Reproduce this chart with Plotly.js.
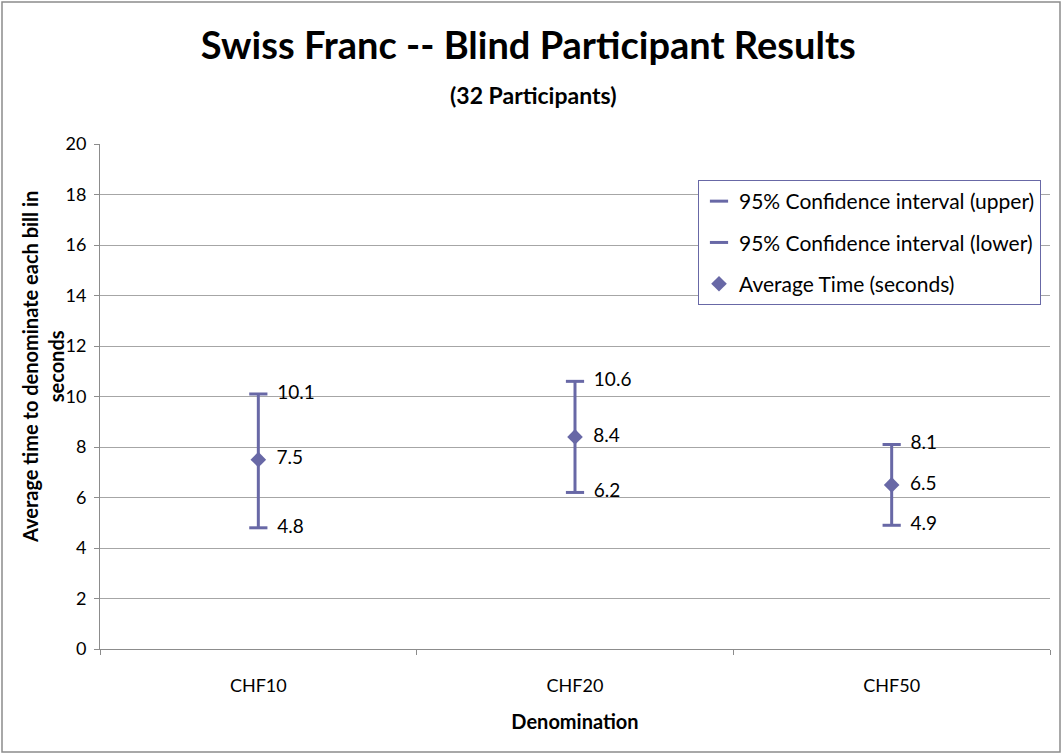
<!DOCTYPE html>
<html>
<head>
<meta charset="utf-8">
<script src="https://cdn.plot.ly/plotly-3.0.1.min.js"></script>
<style>
  html, body { margin: 0; padding: 0; background: #fff; }
  #chart { width: 1063px; height: 755px; }
</style>
</head>
<body>
<div id="chart"></div>
<script>
// Valores
const categories = ["CHF10", "CHF20", "CHF50"];
const upperCI = [10.1, 10.6, 8.1];
const lowerCI = [4.8, 6.2, 4.9];
const averageTime = [7.5, 8.4, 6.5];
const yTicks = [0, 2, 4, 6, 8, 10, 12, 14, 16, 18, 20];

const seriesColor = "#6868A6";
const fontFamily = "Lato, 'Open Sans', sans-serif";

const margin = { l: 100, r: 13, t: 144, b: 106 };
const W = 1063, H = 755;
const pw = W - margin.l - margin.r;
const ph = H - margin.t - margin.b;

const labelFont = { family: fontFamily, size: 19, color: "#000" };
const pad = "\u00a0\u00a0"; // afasta o rótulo do marcador

const traces = [
    {
        x: categories,
        y: upperCI,
        name: "95% Confidence interval (upper)",
        legendgroup: "upper",
        type: "scatter",
        mode: "markers+text",
        marker: { symbol: "line-ew-open", size: 13, color: seriesColor, line: { color: seriesColor, width: 3 } },
        text: upperCI.map((v) => pad + v.toFixed(1)),
        textposition: "middle right",
        textfont: labelFont,
        hoverinfo: "none",
    },
    {
        x: categories,
        y: lowerCI,
        name: "95% Confidence interval (lower)",
        legendgroup: "lower",
        type: "scatter",
        mode: "markers+text",
        marker: { symbol: "line-ew-open", size: 13, color: seriesColor, line: { color: seriesColor, width: 3 } },
        text: lowerCI.map((v) => pad + v.toFixed(1)),
        textposition: "middle right",
        textfont: labelFont,
        hoverinfo: "none",
    },
    {
        x: categories,
        y: averageTime,
        name: "Average Time (seconds)",
        legendgroup: "avg",
        type: "scatter",
        mode: "markers+text",
        marker: { symbol: "diamond", size: 12, color: seriesColor },
        // linha vertical entre limite inferior e superior
        error_y: {
            type: "data",
            symmetric: false,
            array: upperCI.map((u, i) => u - averageTime[i]),
            arrayminus: lowerCI.map((l, i) => averageTime[i] - l),
            color: seriesColor,
            thickness: 3,
            width: 0,
        },
        text: averageTime.map((v) => pad + v.toFixed(1)),
        textposition: "middle right",
        textfont: labelFont,
        hoverinfo: "none",
    },
];

const layout = {
    width: W,
    height: H,
    margin: margin,
    paper_bgcolor: "#fff",
    plot_bgcolor: "#fff",
    font: { family: fontFamily, color: "#000" },
    showlegend: true,
    title: {
        text: "<b>Swiss Franc -- Blind Participant Results</b>",
        font: { family: fontFamily, size: 38, color: "#000" },
        x: 0.497,
        xanchor: "center",
        y: 1 - 46 / H,
        yanchor: "middle",
    },
    xaxis: {
        type: "category",
        range: [-0.5, 2.5],
        tickson: "boundaries",
        ticks: "outside",
        ticklen: 5,
        tickcolor: "#8c8c8c",
        ticklabelstandoff: 20,
        tickfont: { family: fontFamily, size: 18, color: "#000" },
        showline: true,
        linecolor: "#8c8c8c",
        showgrid: false,
        zeroline: false,
        title: {
            text: "<b>Denomination</b>",
            font: { family: fontFamily, size: 20, color: "#000" },
            standoff: 20,
        },
    },
    yaxis: {
        range: [0, 20],
        tickvals: yTicks,
        ticks: "outside",
        ticklen: 5,
        tickcolor: "#8c8c8c",
        ticklabelstandoff: 4,
        tickfont: { family: fontFamily, size: 18, color: "#000" },
        showline: true,
        linecolor: "#8c8c8c",
        showgrid: true,
        gridcolor: "#a6a6a6",
        gridwidth: 1,
        zeroline: false,
    },
    legend: {
        x: (698 - margin.l) / pw,
        y: (H - margin.b - 180) / ph,
        xanchor: "left",
        yanchor: "top",
        bgcolor: "#fff",
        bordercolor: "#6868A6",
        borderwidth: 1,
        font: { family: fontFamily, size: 21, color: "#000" },
        itemsizing: "trace",
        itemwidth: 30,
        traceorder: "grouped",
        tracegroupgap: 11,
    },
    annotations: [
        {
            text: "<b>(32 Participants)</b>",
            xref: "paper", yref: "paper",
            x: (533 - margin.l) / pw, y: (H - margin.b - 95) / ph,
            xanchor: "center", yanchor: "middle",
            showarrow: false,
            font: { family: fontFamily, size: 23, color: "#000" },
        },
        {
            text: "<b>Average time to denominate each bill in<br>seconds</b>",
            xref: "paper", yref: "paper",
            x: (43 - margin.l) / pw, y: (H - margin.b - 367) / ph,
            xanchor: "center", yanchor: "middle",
            textangle: -90,
            showarrow: false,
            font: { family: fontFamily, size: 20, color: "#000" },
        },
    ],
    shapes: [
        {
            // moldura externa do gráfico
            type: "rect",
            xref: "paper", yref: "paper",
            x0: (2 - margin.l) / pw, x1: (W - 3 - margin.l) / pw,
            y0: -(H - 3 - margin.t - ph) / ph, y1: 1 + (margin.t - 2) / ph,
            line: { color: "#8c8c8c", width: 1.5 },
            layer: "below",
        },
    ],
};

Plotly.newPlot("chart", traces, layout, { displayModeBar: false, staticPlot: true });
</script>
</body>
</html>
